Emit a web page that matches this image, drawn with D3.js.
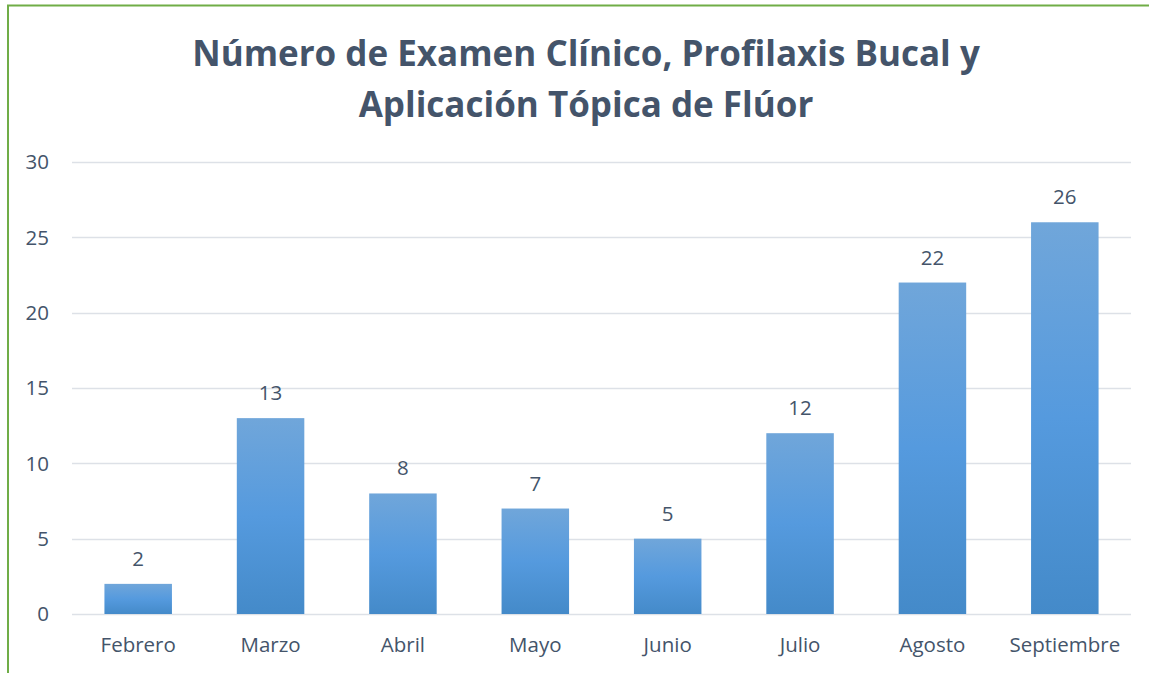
<!DOCTYPE html>
<html>
<head>
<meta charset="utf-8">
<script src="https://cdn.jsdelivr.net/npm/d3@7"></script>
<style>
  body { margin: 0; background: #fff; }
  svg { display: block; font-family: "Open Sans", "Noto Sans", sans-serif; }
</style>
</head>
<body>
<svg width="1149" height="673"></svg>
<script>
// data
const months = ["Febrero", "Marzo", "Abril", "Mayo", "Junio", "Julio", "Agosto", "Septiembre"];
const counts = [2, 13, 8, 7, 5, 12, 22, 26];
const yTicks = [0, 5, 10, 15, 20, 25, 30];
const titleLines = ["Número de Examen Clínico, Profilaxis Bucal y", "Aplicación Tópica de Flúor"];

var svg = d3.select("svg"),
    width = +svg.attr("width"),
    height = +svg.attr("height");

const textColor = "#44546a";
const labelSize = 20.5;
const margin = { left: 72, right: 18, top: 162, bottom: 59 };

// green frame on top and left
svg.append("line")
    .attr("x1", 7).attr("x2", width).attr("y1", 5.5).attr("y2", 5.5)
    .attr("stroke", "#70ad47").attr("stroke-width", 2);
svg.append("line")
    .attr("x1", 8).attr("x2", 8).attr("y1", 5).attr("y2", height)
    .attr("stroke", "#70ad47").attr("stroke-width", 2);

// title
svg.append("text")
    .attr("x", 586)
    .attr("text-anchor", "middle")
    .attr("fill", textColor)
    .attr("font-size", 35)
    .attr("font-weight", "bold")
    .selectAll("tspan")
    .data(titleLines)
    .enter().append("tspan")
    .attr("x", 586)
    .attr("y", (d, i) => 66 + i * 51)
    .text(d => d);

var x = d3.scaleBand()
    .domain(months)
    .range([margin.left, width - margin.right])
    .paddingInner(0.49)
    .paddingOuter(0.245);

var y = d3.scaleLinear()
    .domain([0, 30])
    .range([height - margin.bottom, margin.top]);

// gridlines
svg.append("g")
    .selectAll("line")
    .data(yTicks)
    .enter().append("line")
    .attr("x1", margin.left)
    .attr("x2", width - margin.right)
    .attr("y1", d => Math.round(y(d)) + 0.5)
    .attr("y2", d => Math.round(y(d)) + 0.5)
    .attr("stroke", "#dde1e7")
    .attr("stroke-width", 1.5);

// y axis labels
svg.append("g")
    .selectAll("text")
    .data(yTicks)
    .enter().append("text")
    .attr("x", 49)
    .attr("y", d => y(d))
    .attr("dy", "0.35em")
    .attr("text-anchor", "end")
    .attr("fill", textColor)
    .attr("font-size", labelSize)
    .text(d => d);

// gradient for bars
var grad = svg.append("defs").append("linearGradient")
    .attr("id", "barGrad")
    .attr("x1", 0).attr("x2", 0).attr("y1", 0).attr("y2", 1);
grad.append("stop").attr("offset", "0%").attr("stop-color", "#70a6da");
grad.append("stop").attr("offset", "50%").attr("stop-color", "#559ade");
grad.append("stop").attr("offset", "100%").attr("stop-color", "#448ac9");

svg.append("g")
    .selectAll("rect")
    .data(months)
    .enter().append("rect")
    .attr("x", d => x(d))
    .attr("width", x.bandwidth())
    .attr("y", (d, i) => y(counts[i]))
    .attr("height", (d, i) => y(0) - y(counts[i]))
    .attr("fill", "url(#barGrad)");

// value labels
svg.append("g")
    .selectAll("text")
    .data(months)
    .enter().append("text")
    .attr("x", d => x(d) + x.bandwidth() / 2)
    .attr("y", (d, i) => y(counts[i]) - 18)
    .attr("text-anchor", "middle")
    .attr("fill", textColor)
    .attr("font-size", labelSize)
    .text((d, i) => counts[i]);

// x axis labels
svg.append("g")
    .selectAll("text")
    .data(months)
    .enter().append("text")
    .attr("x", d => x(d) + x.bandwidth() / 2)
    .attr("y", 652)
    .attr("text-anchor", "middle")
    .attr("fill", textColor)
    .attr("font-size", labelSize)
    .text(d => d);
</script>
</body>
</html>
